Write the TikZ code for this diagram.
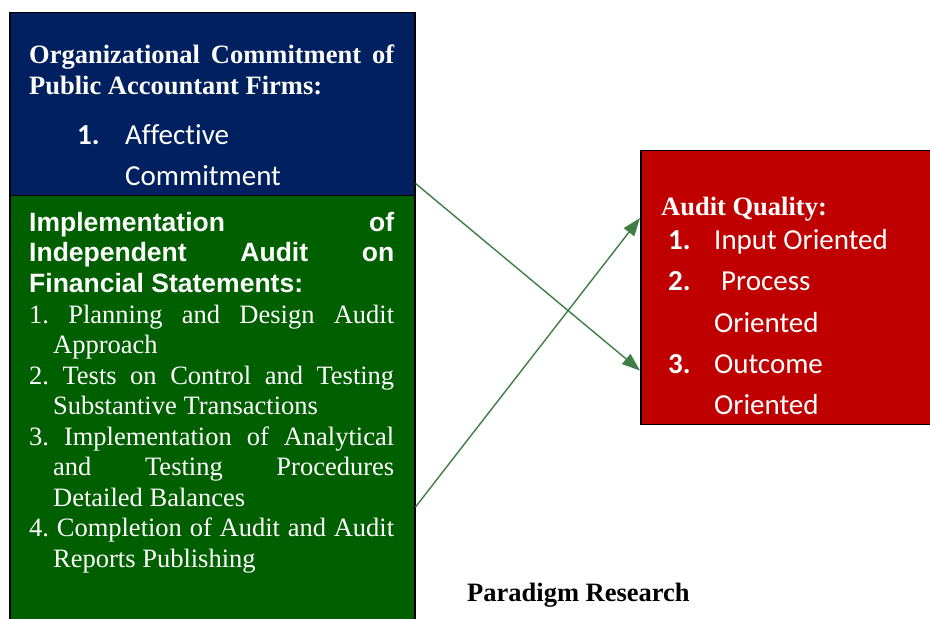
\documentclass[tikz,border=0pt]{standalone}
\usepackage{fontspec}
\setmainfont{Liberation Serif}
\newfontfamily\arialfont{Liberation Sans}
\newfontfamily\calfont[Ligatures=NoCommon]{Carlito}
\usetikzlibrary{arrows.meta}
\definecolor{boxblue}{RGB}{0,32,96}
\definecolor{boxgreen}{RGB}{0,96,0}
\definecolor{boxred}{RGB}{192,0,0}
\definecolor{arrowgreen}{RGB}{62,125,67}
\frenchspacing
\begin{document}
\begin{tikzpicture}[x=1pt,y=1pt,
  panel/.style={draw=black,line width=1.5pt,rectangle,inner sep=0pt,anchor=north west},
  txt/.style={anchor=base west,inner sep=0pt,text=white,yshift=-1.5pt},
  serifb/.style={txt,font=\fontsize{26.5}{30}\selectfont\bfseries},
  serifr/.style={txt,font=\fontsize{26.5}{30}\selectfont},
  sansb/.style={txt,font=\arialfont\fontsize{26.5}{30}\selectfont\bfseries},
  cal/.style={txt,font=\calfont\fontsize{29}{34}\selectfont},
  calb/.style={txt,font=\calfont\fontsize{29}{34}\selectfont\bfseries},
  link/.style={draw=arrowgreen,line width=1.4pt,-{Triangle[length=18pt,width=13pt]}}
]
\useasboundingbox (0,0) rectangle (930,619);
\node[panel,fill=boxgreen,minimum width=405pt,minimum height=432pt] (green) at (9,424) {};
\node[panel,fill=boxblue,minimum width=405pt,minimum height=183pt] (blue) at (9,607) {};
\node[panel,fill=boxred,minimum width=293pt,minimum height=274pt] (red) at (640,469) {};

\draw[link] ([yshift=13pt]blue.south east) -- ([yshift=55pt]red.south west);
\draw[link] ([yshift=-312pt]green.north east) -- ([yshift=-68pt]red.north west);

% blue box
\node[serifb] (bt1) at (29,557) {\makebox[365pt][s]{Organizational Commitment of}};
\node[serifb] (bt2) at (29,526) {Public Accountant Firms:};
\node[calb] (bn1) at (77,476) {1.};
\node[cal] (bi1) at (125,476) {Affective};
\node[cal] (bi2) at (125,435) {Commitment};

% green box
\node[sansb] (gt1) at (29,389) {\makebox[365pt][s]{Implementation of}};
\node[sansb] (gt2) at (29,358.5) {\makebox[365pt][s]{Independent Audit on}};
\node[sansb] (gt3) at (29,328) {Financial Statements:};
\node[serifr] (g1) at (29,297) {\makebox[365pt][s]{1. Planning and Design Audit}};
\node[serifr] (g1b) at (53,266.5) {Approach};
\node[serifr] (g2) at (29,236) {\makebox[365pt][s]{2. Tests on Control and Testing}};
\node[serifr] (g2b) at (53,205.5) {Substantive Transactions};
\node[serifr] (g3) at (29,175) {\makebox[365pt][s]{3. Implementation of Analytical}};
\node[serifr] (g3b) at (53,144.5) {\makebox[341pt][s]{and Testing Procedures}};
\node[serifr] (g3c) at (53,114) {Detailed Balances};
\node[serifr] (g4) at (29,83.5) {\makebox[365pt][s]{4. Completion of Audit and Audit}};
\node[serifr] (g4b) at (53,53) {Reports Publishing};

% red box
\node[serifb] (rt) at (661,405) {Audit Quality:};
\node[calb] (rn1) at (668,371) {1.};
\node[cal] (ri1) at (714,371) {Input Oriented};
\node[calb] (rn2) at (668,330) {2.};
\node[cal] (ri2) at (721,330) {Process};
\node[cal] (ri2b) at (714,288) {Oriented};
\node[calb] (rn3) at (668,247) {3.};
\node[cal] (ri3) at (714,247) {Outcome};
\node[cal] (ri3b) at (714,206) {Oriented};

% caption
\node[serifb,text=black] (cap) at (467,19) {Paradigm Research};
\end{tikzpicture}
\end{document}
